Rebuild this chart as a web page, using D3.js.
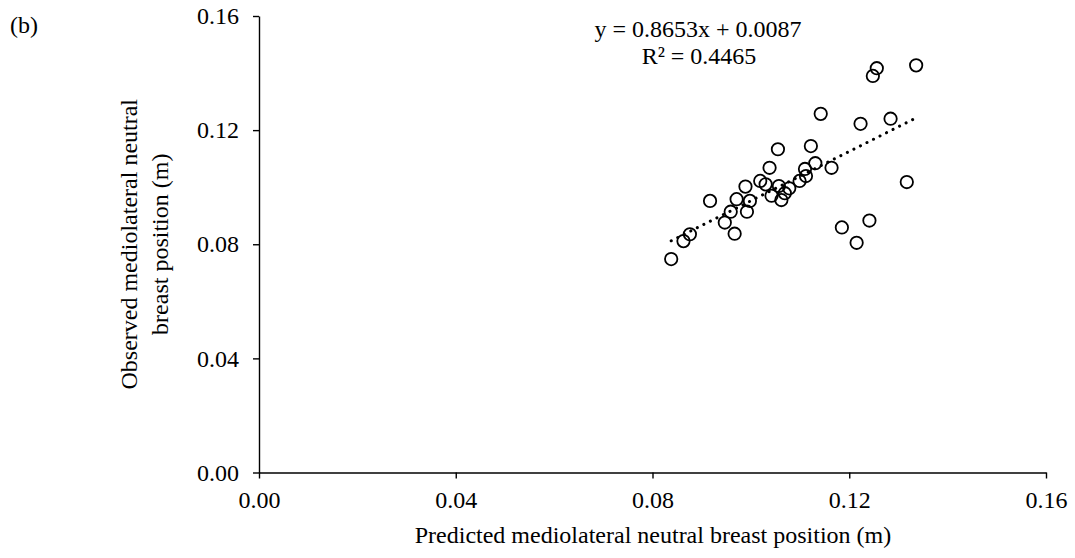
<!DOCTYPE html>
<html>
<head>
<meta charset="utf-8">
<script src="https://cdn.jsdelivr.net/npm/d3@7"></script>
<style>
  html, body { margin: 0; padding: 0; background: #fff; }
  svg { display: block; }
  text { font-family: "Liberation Serif", "Times New Roman", serif; fill: #000; }
</style>
</head>
<body>
<svg id="chart" width="1075" height="558"></svg>
<script>
// ---- data ----
const predicted = [0.1256, 0.1248, 0.1336, 0.1142, 0.1223, 0.1284, 0.1317, 0.1055, 0.1122, 0.1038,
                   0.1131, 0.1110, 0.1164, 0.1112, 0.1099, 0.1078, 0.1019, 0.1030, 0.0989, 0.1057,
                   0.1069, 0.1042, 0.1062, 0.0971, 0.0998, 0.0917, 0.0959, 0.0992, 0.0947, 0.0967,
                   0.0876, 0.0863, 0.0838, 0.1185, 0.1241, 0.1215];
const observed  = [0.1417, 0.1390, 0.1427, 0.1257, 0.1222, 0.1240, 0.1018, 0.1133, 0.1144, 0.1068,
                   0.1084, 0.1064, 0.1068, 0.1039, 0.1022, 0.0996, 0.1022, 0.1010, 0.1002, 0.1004,
                   0.0979, 0.0970, 0.0955, 0.0958, 0.0952, 0.0952, 0.0914, 0.0914, 0.0876, 0.0837,
                   0.0835, 0.0811, 0.0748, 0.0859, 0.0883, 0.0805];
const xTicks = [0.00, 0.04, 0.08, 0.12, 0.16];
const yTicks = [0.00, 0.04, 0.08, 0.12, 0.16];
const slope = 0.8653, intercept = 0.0087, r2 = 0.4465;
const panelLabel = "(b)";
const xTitle = "Predicted mediolateral neutral breast position (m)";
const yTitleLines = ["Observed mediolateral neutral", "breast position (m)"];

// ---- layout ----
const svg = d3.select("#chart");
const mLeft = 259, mRight = 1046, mTop = 16, mBottom = 472.5;
const x = d3.scaleLinear().domain([0, 0.16]).range([mLeft, mRight]);
const y = d3.scaleLinear().domain([0, 0.16]).range([mBottom, mTop]);
const fs = 24;

const xAxis = svg.append("g").attr("transform", `translate(0,${mBottom})`)
  .call(d3.axisBottom(x).tickValues(xTicks).tickFormat(d3.format(".2f")).tickSize(6).tickSizeOuter(0).tickPadding(12));
const yAxis = svg.append("g").attr("transform", `translate(${mLeft},0)`)
  .call(d3.axisLeft(y).tickValues(yTicks).tickFormat(d3.format(".2f")).tickSize(6).tickSizeOuter(0).tickPadding(14));
[xAxis, yAxis].forEach(g => {
  g.select(".domain").attr("stroke", "#000").attr("stroke-width", 1.4);
  g.selectAll(".tick line").attr("stroke", "#000").attr("stroke-width", 1.4);
  g.selectAll(".tick text").attr("font-size", fs).attr("font-family", '"Liberation Serif", serif').attr("fill", "#000");
});

// trendline
const xr = d3.extent(predicted);
svg.append("line")
  .attr("x1", x(xr[0])).attr("y1", y(slope * xr[0] + intercept))
  .attr("x2", x(xr[1])).attr("y2", y(slope * xr[1] + intercept))
  .attr("stroke", "#000").attr("stroke-width", 3)
  .attr("stroke-linecap", "round").attr("stroke-dasharray", "0.1 7.2");

// points
const pts = predicted.map((p, i) => ({ p, o: observed[i] }));
svg.append("g").selectAll("circle").data(pts).join("circle")
  .attr("cx", d => x(d.p)).attr("cy", d => y(d.o)).attr("r", 6.2)
  .attr("fill", "none").attr("stroke", "#000").attr("stroke-width", 1.8);

// equation
svg.append("text").attr("x", 698).attr("y", 37).attr("text-anchor", "middle")
  .attr("font-size", fs).text(`y = ${slope}x + ${intercept}`);
svg.append("text").attr("x", 699).attr("y", 64).attr("text-anchor", "middle")
  .attr("font-size", fs).text(`R² = ${r2}`);

// panel label
svg.append("text").attr("x", 10).attr("y", 33).attr("font-size", fs).text(panelLabel);

// x title
svg.append("text").attr("x", 653).attr("y", 543).attr("text-anchor", "middle")
  .attr("font-size", fs).text(xTitle);

// y title
const yt = svg.append("text").attr("transform", `translate(137,${(mTop + mBottom) / 2}) rotate(-90)`)
  .attr("text-anchor", "middle").attr("font-size", fs);
yTitleLines.forEach((t, i) => yt.append("tspan").attr("x", 0).attr("dy", i === 0 ? 0 : 31).text(t));
</script>
</body>
</html>
